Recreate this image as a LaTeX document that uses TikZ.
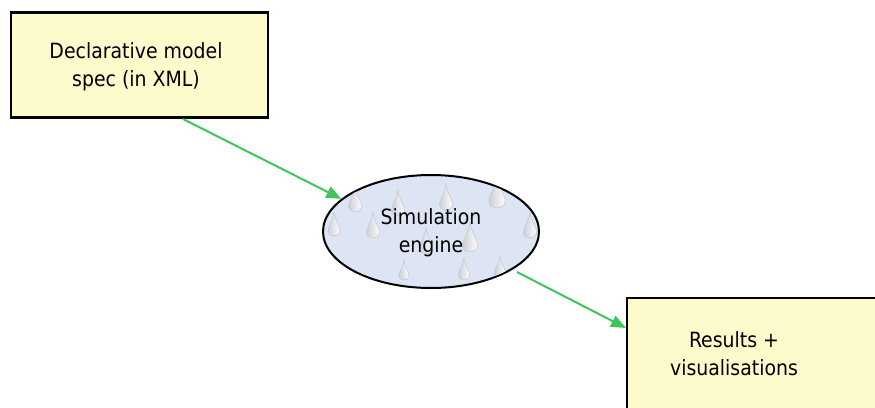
\documentclass[tikz,border=0pt]{standalone}
\usepackage{fontspec}
\setmainfont{DejaVu Sans Condensed}
\usetikzlibrary{shapes.geometric,arrows.meta}
\definecolor{boxfill}{HTML}{FDFBCC}
\definecolor{ellfill}{HTML}{DDE5F4}
\definecolor{arrowgreen}{HTML}{3DC65C}
\definecolor{drop}{HTML}{A8ADB6}
\tikzset{
  specbox/.style={draw=black, line width=2.2pt, fill=boxfill, align=center, inner sep=0pt},
  labeltext/.style={font=\fontsize{21}{28}\selectfont, align=center, text=black},
  engine/.style={draw=black, line width=2pt, fill=ellfill, ellipse, inner sep=0pt},
  flow/.style={draw=arrowgreen, line width=2pt, -{Triangle[length=15pt,width=12pt]}},
  droplet/.style={left color=drop!60, right color=white, draw=drop!70, line width=0.5pt}
}
\newcommand{\mydrop}[3]{% x y size: tip at (x,y), drop of width size
  \path[droplet] (#1,#2) .. controls (#1+#3*0.1,#2+#3*0.8) and (#1+#3*0.55,#2+#3*1.2) .. (#1+#3*0.5,#2+#3*1.65) .. controls (#1+#3*0.45,#2+#3*2.1) and (#1-#3*0.45,#2+#3*2.1) .. (#1-#3*0.5,#2+#3*1.65) .. controls (#1-#3*0.55,#2+#3*1.2) and (#1-#3*0.1,#2+#3*0.8) .. cycle;}
\begin{document}
\begin{tikzpicture}[x=1pt,y=-1pt]
\useasboundingbox (0,0) rectangle (875,407);
\node[specbox, minimum width=257pt, minimum height=105pt] (spec) at (139.5,65) {};
\node[labeltext] (speclabel) at (136,67) {Declarative model\\spec (in XML)};
\node[engine, minimum width=216pt, minimum height=113pt] (eng) at (431,231.5) {};
\begin{scope}
\clip (431,231.5) ellipse (107pt and 55.5pt);
\mydrop{355}{186}{13}
\mydrop{398}{190}{13}
\mydrop{446}{184}{13}
\mydrop{497}{176}{16}
\mydrop{334}{212}{12}
\mydrop{373}{212}{13}
\mydrop{426}{228}{13}
\mydrop{470}{222}{15}
\mydrop{530}{212}{13}
\mydrop{404}{260}{10}
\mydrop{464}{258}{11}
\mydrop{500}{256}{11}
\end{scope}
\node[labeltext] (englabel) at (431,233) {Simulation\\engine};
\node[specbox, minimum width=262pt, minimum height=140pt, anchor=north west] (res) at (626,297) {};
\node[labeltext] (reslabel) at (734,354) {Results +\\visualisations};
\coordinate (a1s) at (183,119);
\coordinate (a2s) at (517,272);
\draw[flow] (a1s) -- (eng.160);
\draw[flow] (a2s) -- (res.west |- 0,328);
\end{tikzpicture}
\end{document}
